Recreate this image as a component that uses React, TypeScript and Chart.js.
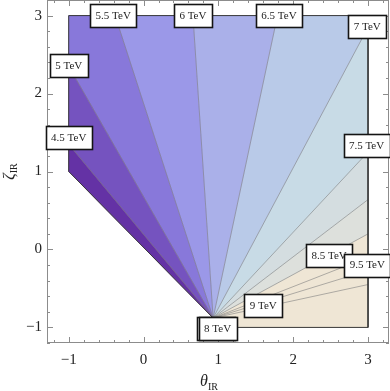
import React, { useEffect, useRef } from 'react';
import { Chart, registerables } from 'chart.js';

Chart.register(...registerables);

// ---- data ----
const apex = { x: 0.93, y: -0.88 };
const outlineCorners = [
  { x: -1, y: 1 },
  { x: -1, y: 3 },
  { x: 3, y: 3 },
  { x: 3, y: -1 },
  { x: 1, y: -1 },
];
// ends of contour lines on the outline (clockwise), separating coloured bands
const contourEnds = [
  { x: -1, y: 1.35 },
  { x: -1, y: 2.35 },
  { x: -0.38, y: 3 },
  { x: 0.66, y: 3 },
  { x: 1.79, y: 3 },
  { x: 3, y: 2.85 },
  { x: 3, y: 1.25 },
  { x: 3, y: 0.64 },
  { x: 3, y: 0.2 },
];
// extra contour lines inside the last band
const extraContourEnds = [
  { x: 3, y: -0.1 },
  { x: 3, y: -0.27 },
  { x: 3, y: -0.45 },
];
const regionColors = [
  '#6432a5', '#7553bf', '#8878da', '#9b98e8', '#aab0e9',
  '#b9cae8', '#c8dbe6', '#d4dde0', '#dde0dc', '#efe6d5',
];
const labelTexts = ['4.5 TeV', '5 TeV', '5.5 TeV', '6 TeV', '6.5 TeV', '7 TeV', '7.5 TeV', '8 TeV', '8 TeV', '8.5 TeV', '9 TeV', '9.5 TeV'];
const labelX = [-1, -1, -0.405, 0.66, 1.81, 2.99, 2.98, 0.963, 0.99, 2.48, 1.6, 2.99];
const labelY = [1.44, 2.36, 3.0, 3.0, 3.0, 2.86, 1.33, -1.01, -1.01, -0.08, -0.72, -0.2];
const xTicks = [-1, 0, 1, 2, 3];
const yTicks = [-1, 0, 1, 2, 3];
const xRange = [-1.29, 3.28];
const yRange = [-1.2, 3.2];

type Pt = { x: number; y: number };

function perimParam(p: Pt): number {
  for (let i = 0; i < outlineCorners.length - 1; i++) {
    const a = outlineCorners[i];
    const b = outlineCorners[i + 1];
    const dx = b.x - a.x;
    const dy = b.y - a.y;
    const len2 = dx * dx + dy * dy;
    const t = ((p.x - a.x) * dx + (p.y - a.y) * dy) / len2;
    const cross = Math.abs((p.x - a.x) * dy - (p.y - a.y) * dx);
    if (t >= -1e-9 && t <= 1 + 1e-9 && cross < 1e-6) return i + t;
  }
  return 0;
}

function buildRegions(): Pt[][] {
  const cutPts: Pt[] = [outlineCorners[0], ...contourEnds, outlineCorners[outlineCorners.length - 1]];
  const cuts = cutPts.map((p, i) => (i === cutPts.length - 1 ? outlineCorners.length - 1 : perimParam(p)));
  const regions: Pt[][] = [];
  for (let k = 0; k < cutPts.length - 1; k++) {
    const c0 = cuts[k];
    const c1 = cuts[k + 1];
    const poly: Pt[] = [apex, cutPts[k]];
    for (let i = 0; i < outlineCorners.length; i++) {
      if (i > c0 + 1e-9 && i < c1 - 1e-9) poly.push(outlineCorners[i]);
    }
    poly.push(cutPts[k + 1]);
    poly.push(apex);
    regions.push(poly);
  }
  return regions;
}

const fmt = (v: number) => (v < 0 ? '\u2212' + Math.abs(v) : String(v));

const framePlugin = {
  id: 'frameTicks',
  afterDatasetsDraw(chart: any) {
    const { ctx, chartArea: a, scales } = chart;
    const xs = scales.x;
    const ys = scales.y;
    ctx.save();
    ctx.strokeStyle = '#8c8c8c';
    ctx.lineWidth = 1;
    ctx.strokeRect(a.left + 0.5, a.top + 0.5, a.right - a.left - 1, a.bottom - a.top - 1);
    ctx.beginPath();
    for (let i = -7; i <= 17; i++) {
      const v = i / 5;
      if (v < xRange[0] || v > xRange[1]) continue;
      const len = i % 5 === 0 ? 6 : 3;
      const px = Math.round(xs.getPixelForValue(v)) + 0.5;
      ctx.moveTo(px, a.bottom);
      ctx.lineTo(px, a.bottom - len);
      ctx.moveTo(px, a.top);
      ctx.lineTo(px, a.top + len);
    }
    for (let i = -7; i <= 17; i++) {
      const v = i / 5;
      if (v < yRange[0] || v > yRange[1]) continue;
      const len = i % 5 === 0 ? 6 : 3;
      const py = Math.round(ys.getPixelForValue(v)) + 0.5;
      ctx.moveTo(a.left, py);
      ctx.lineTo(a.left + len, py);
      ctx.moveTo(a.right, py);
      ctx.lineTo(a.right - len, py);
    }
    ctx.stroke();
    ctx.restore();
  },
};

const labelPlugin = {
  id: 'contourLabels',
  afterDatasetsDraw(chart: any) {
    const { ctx, scales } = chart;
    ctx.save();
    ctx.font = '11px "Liberation Serif", "DejaVu Serif", serif';
    ctx.textAlign = 'center';
    ctx.textBaseline = 'middle';
    labelTexts.forEach((t, i) => {
      const cx = scales.x.getPixelForValue(labelX[i]);
      const cy = scales.y.getPixelForValue(labelY[i]);
      const w = Math.round(ctx.measureText(t).width + 11);
      const h = 23;
      const x0 = Math.round(cx - w / 2) + 0.5;
      const y0 = Math.round(cy - h / 2) + 0.5;
      ctx.fillStyle = '#ffffff';
      ctx.fillRect(x0, y0, w, h);
      ctx.strokeStyle = '#141414';
      ctx.lineWidth = 1.6;
      ctx.strokeRect(x0, y0, w, h);
      ctx.fillStyle = '#222222';
      ctx.fillText(t, cx, cy + 0.5);
    });
    ctx.restore();
  },
};

const titlePlugin = {
  id: 'axisTitles',
  afterDraw(chart: any) {
    const { ctx, chartArea: a } = chart;
    ctx.save();
    ctx.fillStyle = '#222222';
    ctx.textBaseline = 'alphabetic';
    ctx.textAlign = 'left';
    const big = 'italic 16px "Liberation Serif", "DejaVu Serif", serif';
    const small = '10px "Liberation Serif", "DejaVu Serif", serif';
    // x title
    ctx.font = big;
    const w1 = ctx.measureText('\u03b8').width;
    ctx.font = small;
    const w2 = ctx.measureText('IR').width;
    const cx = (a.left + a.right) / 2 - 9;
    const sx = cx - (w1 + w2) / 2;
    ctx.font = big;
    ctx.fillText('\u03b8', sx, 386);
    ctx.font = small;
    ctx.fillText('IR', sx + w1, 390);
    // y title
    ctx.translate(14, (a.top + a.bottom) / 2);
    ctx.rotate(-Math.PI / 2);
    ctx.font = big;
    const z1 = ctx.measureText('\u03b6').width;
    ctx.font = small;
    const z2 = ctx.measureText('IR').width;
    const sy = -(z1 + z2) / 2;
    ctx.font = big;
    ctx.fillText('\u03b6', sy, 0);
    ctx.font = small;
    ctx.fillText('IR', sy + z1, 3);
    ctx.restore();
  },
};

export default function App() {
  const ref = useRef<HTMLCanvasElement | null>(null);
  useEffect(() => {
    if (!ref.current) return;
    const regions = buildRegions();
    const datasets: any[] = [];
    regions.forEach((poly, i) => {
      datasets.push({
        data: poly,
        backgroundColor: regionColors[i],
        borderColor: regionColors[i],
        borderWidth: 0.6,
        fill: 'shape',
        pointRadius: 0,
        tension: 0,
        order: 10,
      });
    });
    [...contourEnds, ...extraContourEnds].forEach((e) => {
      datasets.push({
        data: [apex, e],
        borderColor: '#7f7f7f',
        borderWidth: 0.6,
        fill: false,
        pointRadius: 0,
        tension: 0,
        order: 5,
      });
    });
    datasets.push({
      data: [apex, ...outlineCorners],
      borderColor: '#3a3a3a',
      borderWidth: 1,
      fill: false,
      pointRadius: 0,
      tension: 0,
      order: 1,
    });
    const tickFont = { family: '"Liberation Serif", "DejaVu Serif", serif', size: 15 };
    const chart = new Chart(ref.current, {
      type: 'line',
      data: { datasets },
      options: {
        animation: false,
        responsive: false,
        events: [],
        layout: { padding: { top: 0, right: 1, left: 0, bottom: 0 } },
        plugins: { legend: { display: false }, tooltip: { enabled: false } },
        scales: {
          x: {
            type: 'linear',
            min: xRange[0],
            max: xRange[1],
            grid: { display: false, drawTicks: false },
            border: { display: false },
            afterBuildTicks: (s: any) => {
              s.ticks = xTicks.map((v) => ({ value: v }));
            },
            afterFit: (s: any) => {
              s.height = 48;
              s.paddingLeft = 0;
              s.paddingRight = 0;
              s.paddingTop = 0;
              s.paddingBottom = 0;
            },
            ticks: {
              padding: 8,
              color: '#222',
              font: tickFont,
              maxRotation: 0,
              autoSkip: false,
              callback: (v: any) => fmt(Number(v)),
            },
          },
          y: {
            type: 'linear',
            min: yRange[0],
            max: yRange[1],
            grid: { display: false, drawTicks: false },
            border: { display: false },
            afterBuildTicks: (s: any) => {
              s.ticks = yTicks.map((v) => ({ value: v }));
            },
            afterFit: (s: any) => {
              s.width = 47;
              s.paddingLeft = 0;
              s.paddingRight = 0;
              s.paddingTop = 0;
              s.paddingBottom = 0;
            },
            ticks: {
              padding: 5,
              color: '#222',
              font: tickFont,
              autoSkip: false,
              callback: (v: any) => fmt(Number(v)),
            },
          },
        },
      } as any,
      plugins: [framePlugin, labelPlugin, titlePlugin],
    });
    return () => chart.destroy();
  }, []);
  return (
    <div style={{ position: 'absolute', left: 0, top: 0, width: 390, height: 391, background: '#fff' }}>
      <canvas ref={ref} width={390} height={391} />
    </div>
  );
}
